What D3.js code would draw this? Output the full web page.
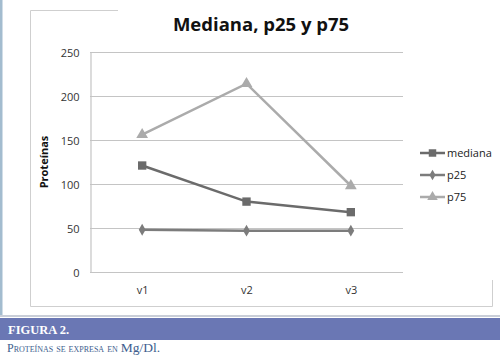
<!DOCTYPE html>
<html>
<head>
<meta charset="utf-8">
<script src="https://cdn.jsdelivr.net/npm/d3@7"></script>
<style>
  body { margin: 0; background: #fff; }
  #chart { width: 500px; height: 358px; }
</style>
</head>
<body>
<div id="chart"></div>
<script>
// data
const categories = ["v1", "v2", "v3"];
const mediana = [121, 80, 68];
const p25 = [48, 47, 47];
const p75 = [156, 214, 98];
const yTicks = [0, 50, 100, 150, 200, 250];

const series = [
  {name: "mediana", values: mediana, color: "#6b6b6b", symbol: d3.symbolSquare, size: 70},
  {name: "p25", values: p25, color: "#7c7c7c", symbol: d3.symbolDiamond, size: 40},
  {name: "p75", values: p75, color: "#ababab", symbol: d3.symbolTriangle, size: 60}
];

const W = 500, H = 358;
const svg = d3.select("#chart").append("svg")
    .attr("width", W).attr("height", H);

// page decoration
svg.append("rect").attr("x", 0).attr("y", 0).attr("width", 2.5).attr("height", 317)
    .attr("fill", "#a3bccf");

// outer chart frame (faded scan)
const frame = svg.append("g").attr("stroke", "#cfcfcf").attr("stroke-width", 1).attr("fill", "none");
frame.append("path").attr("d", "M30.5,306.5 L30.5,10.5 L118,10.5");
frame.append("path").attr("d", "M30.5,306.5 L492.5,306.5 L492.5,280");

// blue figure band
svg.append("rect").attr("x", 0).attr("y", 315).attr("width", W).attr("height", 2)
    .attr("fill", "#c9ced8");
svg.append("rect").attr("x", 0).attr("y", 318).attr("width", W).attr("height", 22)
    .attr("fill", "#6a77b4");
svg.append("text").attr("x", 8).attr("y", 334)
    .attr("font-family", "Liberation Serif, serif").attr("font-weight", "bold")
    .attr("font-size", 12.5).attr("fill", "#fff").text("FIGURA 2.");
const cap = svg.append("text").attr("x", 7).attr("y", 352)
    .attr("font-family", "Liberation Serif, serif")
    .attr("fill", "#3e5e8e");
cap.append("tspan").attr("font-size", 12).style("font-variant", "small-caps")
    .text("Proteínas se expresa en ");
cap.append("tspan").attr("font-size", 13.5).text("Mg/Dl.");

// title
svg.append("text").attr("x", 261).attr("y", 31).attr("text-anchor", "middle")
    .attr("font-family", "Open Sans, sans-serif").attr("font-weight", "bold")
    .attr("font-size", 18.5).attr("fill", "#111").text("Mediana, p25 y p75");

// scales
const margin = {left: 90, right: 403, top: 52, bottom: 272};
const x = d3.scalePoint().domain(categories).range([margin.left, margin.right]).padding(0.5);
const y = d3.scaleLinear().domain([0, 250]).range([margin.bottom, margin.top]);

// gridlines
svg.append("g")
    .selectAll("line").data(yTicks.filter(d => d > 0)).enter().append("line")
    .attr("x1", margin.left).attr("x2", margin.right)
    .attr("y1", d => Math.round(y(d)) + 0.5).attr("y2", d => Math.round(y(d)) + 0.5)
    .attr("stroke", "#c4c4c4").attr("stroke-width", 1.2);

// Y axis
const yAxis = svg.append("g")
    .attr("transform", `translate(${margin.left + 0.5},0.5)`)
    .call(d3.axisLeft(y).tickValues(yTicks).tickSize(0).tickPadding(11));
yAxis.select(".domain").attr("stroke", "#c4c4c4").attr("stroke-width", 1.2);
yAxis.selectAll("text").attr("font-family", "Open Sans, sans-serif")
    .attr("font-size", 11).attr("fill", "#333");

// X axis
const xAxis = svg.append("g")
    .attr("transform", `translate(0,${margin.bottom + 0.5})`)
    .call(d3.axisBottom(x).tickSize(0).tickPadding(14));
xAxis.select(".domain").attr("d", `M${margin.left},0H${margin.right}`)
    .attr("stroke", "#c4c4c4").attr("stroke-width", 1.2);
xAxis.selectAll("text").attr("font-family", "Open Sans, sans-serif")
    .attr("font-size", 11).attr("fill", "#333");

// y label
svg.append("text")
    .attr("transform", `translate(48,${(margin.top + margin.bottom) / 2}) rotate(-90)`)
    .attr("text-anchor", "middle")
    .attr("font-family", "Open Sans, sans-serif").attr("font-weight", "bold")
    .attr("font-size", 11).attr("fill", "#111").text("Proteínas");

// lines and markers
const line = d3.line().x((d, i) => x(categories[i])).y(d => y(d));
series.forEach(s => {
  svg.append("path").datum(s.values)
      .attr("d", line).attr("fill", "none")
      .attr("stroke", s.color).attr("stroke-width", 2.5);
  svg.append("g").selectAll("path").data(s.values).enter().append("path")
      .attr("transform", (d, i) => `translate(${x(categories[i])},${y(d)})`)
      .attr("d", d3.symbol().type(s.symbol).size(s.size))
      .attr("fill", s.color);
});

// legend
const legend = svg.append("g").attr("transform", "translate(420,153)");
series.forEach((s, i) => {
  const g = legend.append("g").attr("transform", `translate(0,${i * 22})`);
  g.append("line").attr("x1", 0).attr("x2", 25).attr("stroke", s.color).attr("stroke-width", 2.5);
  g.append("path").attr("transform", "translate(12.5,0)")
      .attr("d", d3.symbol().type(s.symbol).size(s.size * 0.8)).attr("fill", s.color);
  g.append("text").attr("x", 27).attr("y", 4)
      .attr("font-family", "Open Sans, sans-serif").attr("font-size", 11)
      .attr("fill", "#222").text(s.name);
});
</script>
</body>
</html>
